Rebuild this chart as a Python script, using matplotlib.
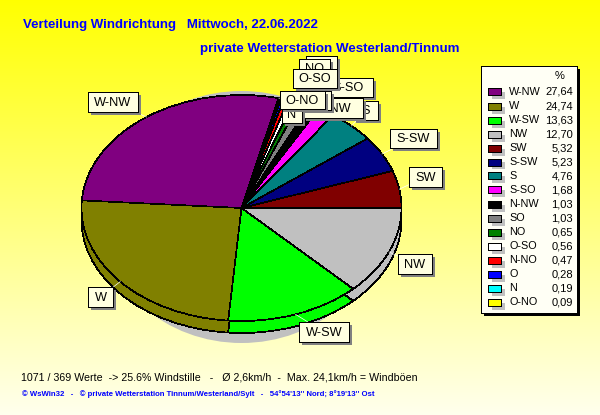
import numpy as np
import matplotlib.pyplot as plt
from matplotlib.patches import Rectangle, Ellipse

plt.rcParams['font.family'] = ['Liberation Sans', 'DejaVu Sans']

# legend order
richtung = ['W-NW', 'W', 'W-SW', 'NW', 'SW', 'S-SW', 'S', 'S-SO', 'N-NW', 'SO', 'NO', 'O-SO', 'N-NO', 'O', 'N', 'O-NO']
werte = [27.64, 24.74, 13.63, 12.70, 5.32, 5.23, 4.76, 1.68, 1.03, 1.03, 0.65, 0.56, 0.47, 0.28, 0.19, 0.09]
werte_txt = ['27,64', '24,74', '13,63', '12,70', '5,32', '5,23', '4,76', '1,68', '1,03', '1,03', '0,65', '0,56', '0,47', '0,28', '0,19', '0,09']
# order of the slices, counterclockwise from east
pie_folge = ['SW', 'S-SW', 'S', 'S-SO', 'N-NW', 'SO', 'NO', 'O-SO', 'N-NO', 'O', 'N', 'O-NO', 'W-NW', 'W', 'W-SW', 'NW']

farben = {'W-NW': '#800080', 'W': '#808000', 'W-SW': '#00ff00', 'NW': '#c0c0c0', 'SW': '#800000', 'S-SW': '#000080',
          'S': '#008080', 'S-SO': '#ff00ff', 'N-NW': '#000000', 'SO': '#808080', 'NO': '#008000', 'O-SO': '#ffffff',
          'N-NO': '#ff0000', 'O': '#0000ff', 'N': '#00ffff', 'O-NO': '#ffff00'}

# label boxes in pixels: x0, y0, x1, y1, drawn in this order
boxen = {'SW': (409, 167, 442, 187), 'S-SW': (390, 129, 437, 148), 'S': (353, 101, 378, 120),
         'S-SO': (323, 78, 373, 97), 'N-NW': (303, 98, 363, 118), 'SO': (306, 56, 337, 76),
         'NO': (299, 59, 330, 79), 'O-SO': (293, 69, 337, 88), 'N-NO': (283, 91, 331, 110),
         'O': (283, 92, 303, 110), 'N': (282, 105, 302, 123), 'O-NO': (280, 91, 325, 109),
         'W-NW': (88, 92, 138, 112), 'W': (88, 287, 113, 307), 'W-SW': (299, 322, 349, 342), 'NW': (398, 254, 432, 274)}

W, H = 600, 415
CX, CY, RX, RY, TIEFE = 241.5, 208, 160, 113, 12
LEG_TOP, LEG_STEP = 92, 14
LW = 0.5

fig = plt.figure(figsize=(6, 4.15), dpi=100)

# background gradient
bg = fig.add_axes([0, 0, 1, 1], zorder=0)
verlauf = np.ones((H, 1, 3))
verlauf[:, 0, 2] = np.linspace(0, 0.93, H)
bg.imshow(verlauf, aspect='auto', extent=(0, W, H, 0))
bg.set_xlim(0, W)
bg.set_ylim(H, 0)
bg.axis('off')
bg.add_patch(Ellipse((CX, 217), 280, 252, fc='#c0c0c0', ec='none'))

# pie, stretched to an ellipse
ax = fig.add_axes([(CX - 1.25 * RX) / W, 1 - (CY + 1.25 * RY) / H, 2.5 * RX / W, 2.5 * RY / H], zorder=1)
pie_werte = [werte[richtung.index(r)] for r in pie_folge]
pie_farben = [farben[r] for r in pie_folge]
kante = dict(edgecolor='black', linewidth=LW, antialiased=False)
ax.pie(pie_werte, colors=pie_farben, startangle=0, center=(0, -TIEFE / RY), wedgeprops=kante)
ax.pie(pie_werte, colors=pie_farben, startangle=0, center=(0, 0), wedgeprops=kante)
ax.set_aspect('auto')
ax.set_xlim(-1.25, 1.25)
ax.set_ylim(-1.25, 1.25)

# overlay in pixels for labels, legend and text
ov = fig.add_axes([0, 0, 1, 1], zorder=2)
ov.set_xlim(0, W)
ov.set_ylim(H, 0)
ov.axis('off')
ov.patch.set_alpha(0)

def kasten(x0, y0, x1, y1, fc, schatten, dx, z):
    ov.add_patch(Rectangle((x0 + dx, y0 + dx), x1 - x0, y1 - y0, fc=schatten, ec='none', zorder=z, antialiased=False))
    ov.add_patch(Rectangle((x0, y0), x1 - x0, y1 - y0, fc=fc, ec='black', lw=LW, zorder=z + 0.1, antialiased=False))

# leader lines start on the pie edge at the middle of each slice
kum = np.cumsum(pie_werte)
mitten = (kum - np.array(pie_werte) / 2) / 100 * 2 * np.pi
for r, m in zip(pie_folge, mitten):
    x0, y0, x1, y1 = boxen[r]
    ov.plot([CX + RX * np.cos(m), (x0 + x1) / 2], [CY - RY * np.sin(m), (y0 + y1) / 2], color='white', lw=LW, zorder=1)

for i, (r, b) in enumerate(boxen.items()):
    z = 2 + i
    kasten(*b, '#ffffe1', '#808080', 3, z)
    ov.text((b[0] + b[2]) / 2, (b[1] + b[3]) / 2 + 0.5, r, fontsize=9.2, ha='center', va='center', zorder=z + 0.2)

# legend
kasten(481, 66, 577, 313, '#fffff5', 'black', 3, 30)
ov.text(560, 76, '%', fontsize=8, ha='center', va='center', zorder=31)
for i, r in enumerate(richtung):
    y = LEG_TOP + i * LEG_STEP
    kasten(488, y - 3.5, 501, y + 3.5, farben[r], '#c0c0c0', 4, 31)
    ov.text(509, y, r, fontsize=7.8, va='center', zorder=32)
    ov.text(573, y, werte_txt[i], fontsize=8, ha='right', va='center', zorder=32)

# title and footer
ov.text(23, 25, 'Verteilung Windrichtung   Mittwoch, 22.06.2022', color='#0000ff', fontsize=9.5, fontweight='bold', va='center')
ov.text(200, 49, 'private Wetterstation Westerland/Tinnum', color='#0000ff', fontsize=9.6, fontweight='bold', va='center')
ov.text(21, 377, '1071 / 369 Werte  -> 25.6% Windstille   -   \u00d8 2,6km/h  -  Max. 24,1km/h = Windb\u00f6en', fontsize=7.65, va='center')
ov.text(22, 394, "\u00a9 WsWin32   -   \u00a9 private Wetterstation Tinnum/Westerland/Sylt   -   54\u00b054'13'' Nord; 8\u00b019'13'' Ost",
        color='#0000ff', fontsize=5.6, fontweight='bold', va='center')

fig.savefig('out.png', dpi=100)
